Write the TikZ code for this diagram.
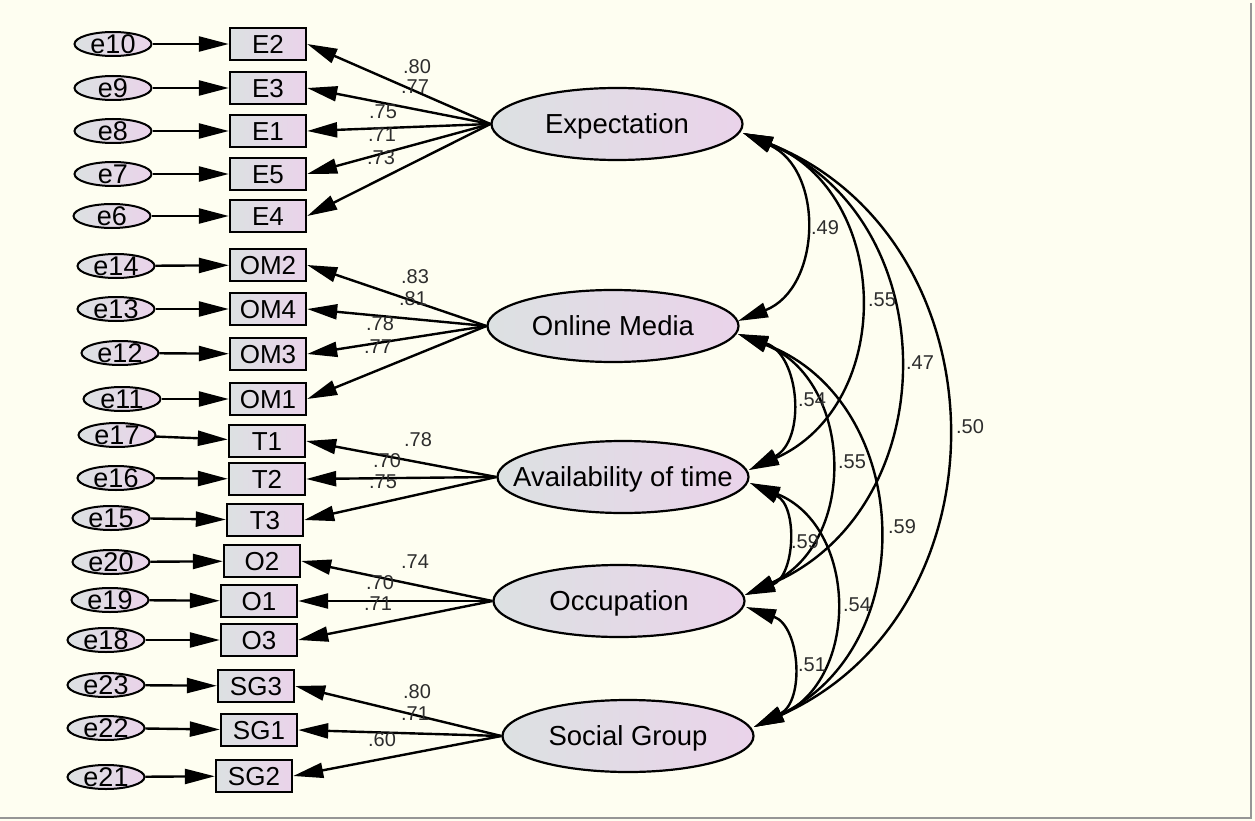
\documentclass[tikz,border=0pt]{standalone}
\usepackage{fontspec}
\setmainfont{Liberation Sans}
\usetikzlibrary{arrows.meta,shapes.geometric}
\definecolor{bgc}{RGB}{254,254,241}
\definecolor{gl}{RGB}{220,225,226}
\definecolor{pk}{RGB}{234,211,234}
\definecolor{lblc}{RGB}{45,45,45}
\definecolor{brd}{RGB}{150,150,150}
\newcommand{\cntxt}[1]{\makebox[0pt]{\raisebox{-0.358em}[0pt][0pt]{#1}}}
\begin{document}
\begin{tikzpicture}[x=1pt,y=1pt,
 errn/.style={ellipse,draw,line width=2pt,minimum width=77pt,minimum height=24pt,inner sep=0pt,left color=gl,right color=pk,font=\fontsize{27}{29}\selectfont},
 obsn/.style={rectangle,draw,line width=2.4pt,minimum width=76pt,minimum height=32pt,inner sep=0pt,left color=gl,right color=pk,font=\fontsize{26}{28}\selectfont},
 latn/.style={ellipse,draw,line width=2.2pt,minimum width=251pt,minimum height=72pt,inner sep=0pt,left color=gl,right color=pk,font=\fontsize{27.5}{29}\selectfont},
 arr/.style={line width=2.4pt,-{Triangle[length=30pt,width=15pt]}},
 dbl/.style={line width=2.4pt,{Triangle[length=30pt,width=15pt]}-{Triangle[length=30pt,width=15pt]}},
 coef/.style={font=\fontsize{20}{22}\selectfont,text=lblc,inner sep=0pt},
 corr/.style={bend left=67,looseness=1.22}
]
\useasboundingbox (0,0) rectangle (1255,-821);
\fill[bgc] (0,0) rectangle (1255,-821);
\draw[brd,line width=2pt] (1251,-3) -- (1251,-818) -- (0,-818);

% latent variables
\node[latn] (Exp) at (617,-124) {\cntxt{Expectation}};
\node[latn] (OM) at (613,-326) {\cntxt{Online Media}};
\node[latn] (AV) at (623,-477) {\cntxt{Availability of time}};
\node[latn] (OC) at (619,-601) {\cntxt{Occupation}};
\node[latn] (SG) at (628,-736) {\cntxt{Social Group}};

% Expectation block
\node[obsn] (E2) at (268,-44) {\cntxt{E2}};
\node[obsn] (E3) at (268,-88) {\cntxt{E3}};
\node[obsn] (E1) at (268,-131) {\cntxt{E1}};
\node[obsn] (E5) at (268,-174) {\cntxt{E5}};
\node[obsn] (E4) at (268,-216) {\cntxt{E4}};
\node[errn] (e10) at (113,-44) {\cntxt{e10}};
\node[errn] (e9) at (113,-88) {\cntxt{e9}};
\node[errn] (e8) at (113,-131) {\cntxt{e8}};
\node[errn] (e7) at (113,-174) {\cntxt{e7}};
\node[errn] (e6) at (112,-216) {\cntxt{e6}};

% Online media block
\node[obsn] (OM2) at (268,-265) {\cntxt{OM2}};
\node[obsn] (OM4) at (268,-309) {\cntxt{OM4}};
\node[obsn] (OM3) at (268,-354) {\cntxt{OM3}};
\node[obsn] (OM1) at (268,-399) {\cntxt{OM1}};
\node[errn] (e14) at (116,-266) {\cntxt{e14}};
\node[errn] (e13) at (116,-309) {\cntxt{e13}};
\node[errn] (e12) at (120,-353) {\cntxt{e12}};
\node[errn] (e11) at (122,-399) {\cntxt{e11}};

% Time block
\node[obsn] (T1) at (267,-441) {\cntxt{T1}};
\node[obsn] (T2) at (267,-479) {\cntxt{T2}};
\node[obsn] (T3) at (265,-520) {\cntxt{T3}};
\node[errn] (e17) at (117,-435) {\cntxt{e17}};
\node[errn] (e16) at (116,-478) {\cntxt{e16}};
\node[errn] (e15) at (111,-518) {\cntxt{e15}};

% Occupation block
\node[obsn] (O2) at (262,-561) {\cntxt{O2}};
\node[obsn] (O1) at (259,-601) {\cntxt{O1}};
\node[obsn] (O3) at (259,-640) {\cntxt{O3}};
\node[errn] (e20) at (111,-562) {\cntxt{e20}};
\node[errn] (e19) at (110,-600) {\cntxt{e19}};
\node[errn] (e18) at (106,-640) {\cntxt{e18}};

% Social group block
\node[obsn] (SG3) at (256,-686) {\cntxt{SG3}};
\node[obsn] (SG1) at (259,-730) {\cntxt{SG1}};
\node[obsn] (SG2) at (254,-776) {\cntxt{SG2}};
\node[errn] (e23) at (106,-685) {\cntxt{e23}};
\node[errn] (e22) at (106,-728) {\cntxt{e22}};
\node[errn] (e21) at (106,-777) {\cntxt{e21}};

% error arrows
\foreach \a/\b in {e10/E2,e9/E3,e8/E1,e7/E5,e6/E4,e14/OM2,e13/OM4,e12/OM3,e11/OM1,e17/T1,e16/T2,e15/T3,e20/O2,e19/O1,e18/O3,e23/SG3,e22/SG1,e21/SG2}
  \draw[arr] (\a) -- (\b);

% loadings
\foreach \b in {E2,E3,E1,E5,E4} \draw[arr] (Exp.west) -- (\b.east);
\foreach \b in {OM2,OM4,OM3,OM1} \draw[arr] (OM.west) -- (\b.east);
\foreach \b in {T1,T2,T3} \draw[arr] (AV.west) -- (\b.east);
\foreach \b in {O2,O1,O3} \draw[arr] (OC.west) -- (\b.east);
\foreach \b in {SG3,SG1,SG2} \draw[arr] (SG.west) -- (\b.east);

% loading labels
\node[coef] (lE2) at (417,-67) {.80};
\node[coef] (lE3) at (415,-87) {.77};
\node[coef] (lE1) at (383,-112) {.75};
\node[coef] (lE5) at (382,-135) {.71};
\node[coef] (lE4) at (381,-158) {.73};
\node[coef] (lOM2) at (415,-277) {.83};
\node[coef] (lOM4) at (413,-299) {.81};
\node[coef] (lOM3) at (380,-324) {.78};
\node[coef] (lOM1) at (378,-347) {.77};
\node[coef] (lT1) at (418,-440) {.78};
\node[coef] (lT2) at (387,-461) {.70};
\node[coef] (lT3) at (383,-482) {.75};
\node[coef] (lO2) at (415,-562) {.74};
\node[coef] (lO1) at (380,-583) {.70};
\node[coef] (lO3) at (378,-604) {.71};
\node[coef] (lSG3) at (417,-692) {.80};
\node[coef] (lSG1) at (415,-714) {.71};
\node[coef] (lSG2) at (382,-740) {.60};

% correlation end points
\coordinate (ExpR) at (743,-133);
\coordinate (OMu) at (738,-321);
\coordinate (OMd) at (738,-334);
\coordinate (AVu) at (749,-470);
\coordinate (AVd) at (750,-483);
\coordinate (OCu) at (745,-595);
\coordinate (OCd) at (746,-607);
\coordinate (SGR) at (754,-727);

\draw[dbl] (ExpR) to[corr] (OMu);
\draw[dbl] (ExpR) to[corr] (AVu);
\draw[dbl] (ExpR) to[corr] (OCu);
\draw[dbl] (ExpR) to[corr] (SGR);
\draw[dbl] (OMd) to[corr] (AVu);
\draw[dbl] (OMd) to[corr] (OCu);
\draw[dbl] (OMd) to[corr] (SGR);
\draw[dbl] (AVd) to[corr] (OCu);
\draw[dbl] (AVd) to[corr] (SGR);
\draw[dbl] (OCd) to[corr] (SGR);

% correlation labels
\node[coef] (c1) at (825,-228) {.49};
\node[coef] (c2) at (882,-300) {.55};
\node[coef] (c3) at (920,-363) {.47};
\node[coef] (c4) at (970,-427) {.50};
\node[coef] (c5) at (812,-400) {.54};
\node[coef] (c6) at (852,-462) {.55};
\node[coef] (c7) at (902,-527) {.59};
\node[coef] (c8) at (805,-542) {.59};
\node[coef] (c9) at (857,-605) {.54};
\node[coef] (c10) at (812,-665) {.51};
\end{tikzpicture}
\end{document}
